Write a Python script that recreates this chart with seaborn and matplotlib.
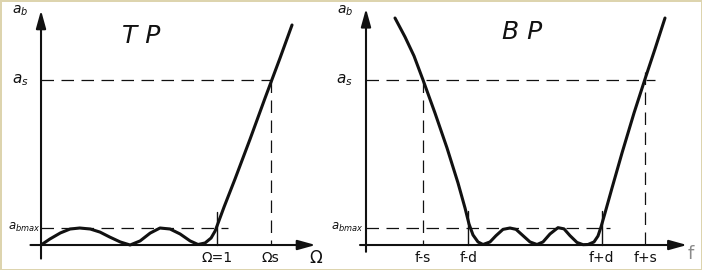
import numpy as np
import pandas as pd
import matplotlib
matplotlib.use("Agg")
import matplotlib.pyplot as plt
import seaborn as sns

# ---------------- data ----------------
a_bmax = 1.0          # passband max attenuation
a_s = 9.7             # stopband min attenuation

# Low-pass (TP) attenuation curve
tp_omega = [0.0, 0.05, 0.11, 0.165, 0.22, 0.28, 0.335, 0.39, 0.45, 0.506,
            0.563, 0.62, 0.676, 0.733, 0.79, 0.847, 0.892, 0.932, 0.966,
            0.989, 1.006, 1.04, 1.102, 1.188, 1.273, 1.358, 1.426]
tp_atten = [0.0, 0.35, 0.71, 0.94, 1.0, 0.94, 0.76, 0.47, 0.18, 0.0,
            0.24, 0.70, 1.0, 0.94, 0.65, 0.24, 0.03, 0.12, 0.41,
            0.82, 1.29, 2.24, 3.88, 6.24, 8.65, 11.0, 12.94]
tp_pass = 1.0         # Omega = 1
tp_stop = 1.305       # Omega_s

# Band-pass (BP) attenuation curve
bp_freq = [0.29, 0.39, 0.48, 0.57, 0.69, 0.81, 0.92, 0.99, 1.03, 1.07,
           1.12, 1.17, 1.24, 1.30, 1.37, 1.44, 1.50, 1.57, 1.64, 1.71,
           1.77, 1.84, 1.92, 1.98, 2.04, 2.11, 2.17, 2.22, 2.28, 2.32,
           2.35, 2.39, 2.46, 2.56, 2.68, 2.79, 2.89, 2.99]
bp_atten = [13.35, 12.24, 11.12, 9.71, 7.76, 5.71, 3.65, 2.18, 1.24, 0.59,
            0.18, 0.03, 0.18, 0.55, 0.92, 1.0, 0.92, 0.55, 0.18, 0.03,
            0.18, 0.65, 1.02, 0.95, 0.55, 0.15, 0.02, 0.03, 0.18, 0.53,
            1.06, 1.88, 3.35, 5.41, 7.76, 9.76, 11.53, 13.35]
bp_marks = [0.567, 1.023, 2.357, 2.79]          # f-s, f-d, f+d, f+s
bp_mark_labels = ["f-s", "f-d", "f+d", "f+s"]

tp_df = pd.DataFrame({"omega": tp_omega, "a": tp_atten})
bp_df = pd.DataFrame({"f": bp_freq, "a": bp_atten})

# ---------------- style ----------------
sns.set_theme(style="white")
plt.rcParams["font.family"] = ["DejaVu Sans"]
plt.rcParams["mathtext.fontset"] = "dejavusans"

fig = plt.figure(figsize=(7.02, 2.70), dpi=100)
fig.patch.set_facecolor("white")
fig.patch.set_edgecolor("#ddd4ae")
fig.patch.set_linewidth(2)

ax1 = fig.add_axes([0.0, 0.0, 0.5, 1.0])
ax2 = fig.add_axes([0.5, 0.0, 0.5, 1.0])

ylim = (-1.47, 14.41)
ax1.set_xlim(-0.233, 1.761)
ax2.set_xlim(-0.15, 3.36)
for ax in (ax1, ax2):
    ax.set_ylim(*ylim)
    ax.axis("off")

ink = "#111111"
dash_kw = dict(color=ink, lw=0.9, dashes=(10, 6))
arrow_kw = dict(arrowstyle="-|>,head_length=0.9,head_width=0.25", color=ink,
                lw=1.5, shrinkA=0, shrinkB=0)
txt_kw = dict(color=ink, fontsize=10)
curve_kw = dict(color=ink, lw=2.2, solid_joinstyle="round",
                solid_capstyle="round")

# ---------- TP ----------
ax = ax1
ax.annotate("", xy=(0, 13.8), xytext=(0, -0.8), arrowprops=arrow_kw)
ax.annotate("", xy=(1.56, 0), xytext=(-0.06, 0), arrowprops=arrow_kw)
ax.plot([0, tp_stop], [a_s, a_s], **dash_kw)
ax.plot([tp_stop, tp_stop], [a_s, 0], **dash_kw)
ax.plot([0, 1.06], [a_bmax, a_bmax], **dash_kw)
ax.plot([tp_pass, tp_pass], [0, 1.96], color=ink, lw=1.0)
sns.lineplot(data=tp_df, x="omega", y="a", sort=False, estimator=None,
             ax=ax, **curve_kw)
ax.set_xlabel(""); ax.set_ylabel("")
ax.text(-0.12, 13.75, r"$a_b$", ha="center", va="center", **txt_kw)
ax.text(-0.12, a_s, r"$a_s$", ha="center", va="center", fontsize=11, color=ink)
ax.text(-0.003, a_bmax + 0.05, r"$a_{bmax}$", ha="right", va="center",
        fontsize=8.5, color=ink)
ax.text(0.57, 12.3, "T P", ha="center", va="center", fontsize=18, color=ink,
        fontstyle="italic")
ax.text(tp_pass, -0.78, "Ω=1", ha="center", va="center", **txt_kw)
ax.text(tp_stop, -0.78, "Ωs", ha="center", va="center", **txt_kw)
ax.text(1.56, -0.78, "Ω", ha="center", va="center", fontsize=12, color=ink)

# ---------- BP ----------
ax = ax2
ax.annotate("", xy=(0, 13.9), xytext=(0, -0.4), arrowprops=arrow_kw)
ax.annotate("", xy=(3.21, 0), xytext=(-0.06, 0), arrowprops=arrow_kw)
ax.plot([0, 2.89], [a_s, a_s], **dash_kw)
ax.plot([0, 2.44], [a_bmax, a_bmax], **dash_kw)
ax.plot([bp_marks[0], bp_marks[0]], [a_s, 0], **dash_kw)
ax.plot([bp_marks[3], bp_marks[3]], [a_s + 0.5, 0], **dash_kw)
for m in (bp_marks[1], bp_marks[2]):
    ax.plot([m, m], [0, 2.0], color=ink, lw=1.0)
sns.lineplot(data=bp_df, x="f", y="a", sort=False, estimator=None,
             ax=ax, **curve_kw)
ax.set_xlabel(""); ax.set_ylabel("")
ax.text(-0.21, 13.75, r"$a_b$", ha="center", va="center", **txt_kw)
ax.text(-0.22, a_s, r"$a_s$", ha="center", va="center", fontsize=11, color=ink)
ax.text(-0.03, a_bmax + 0.05, r"$a_{bmax}$", ha="right", va="center",
        fontsize=8.5, color=ink)
ax.text(1.56, 12.5, "B P", ha="center", va="center", fontsize=18, color=ink,
        fontstyle="italic")
for m, lab in zip(bp_marks, bp_mark_labels):
    ax.text(m, -0.78, lab, ha="center", va="center", **txt_kw)
ax.text(3.25, -0.55, "f", ha="center", va="center", fontsize=13,
        color="#8a8a8a")

fig.savefig("out.png", dpi=100, facecolor=fig.get_facecolor(),
            edgecolor=fig.get_edgecolor())
